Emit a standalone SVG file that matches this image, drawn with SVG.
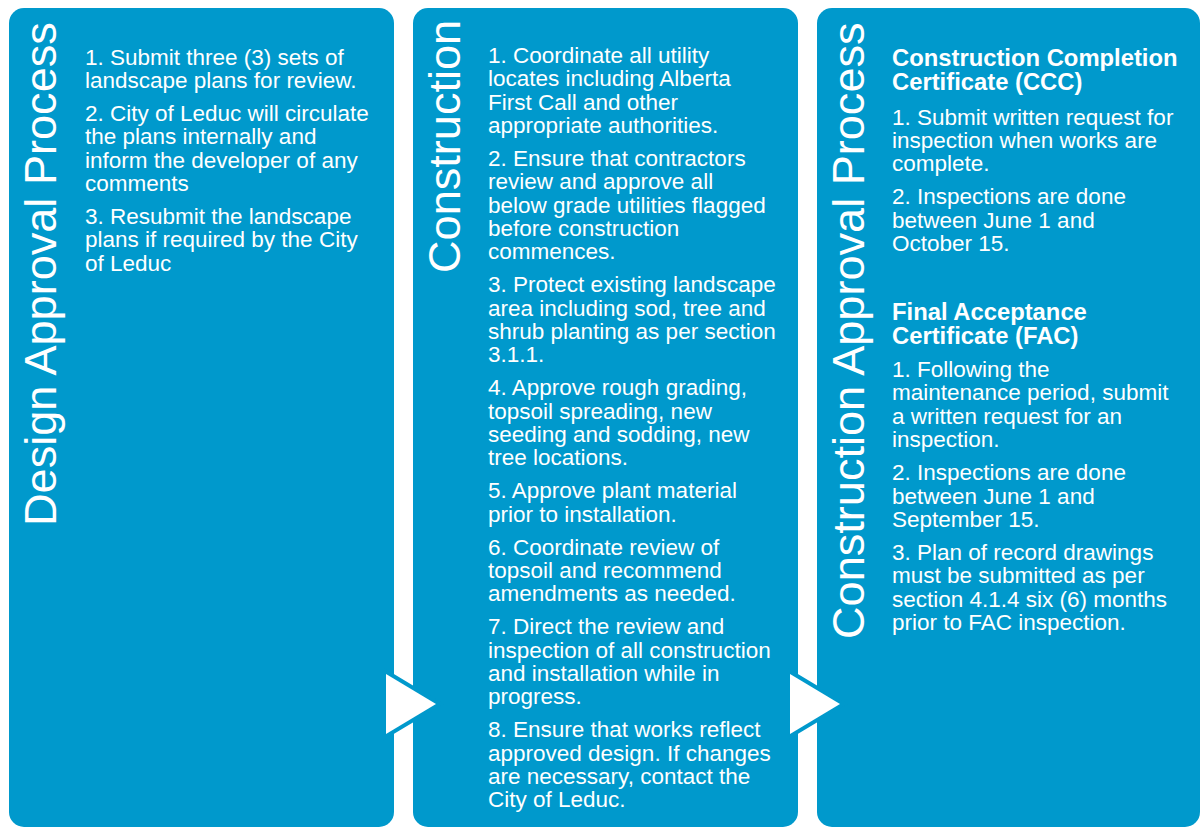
<svg xmlns="http://www.w3.org/2000/svg" width="1201" height="828" viewBox="0 0 1201 828">
<style>
.panel{fill:#0099cc}
.title{font-family:"Liberation Sans",Arial,sans-serif;font-size:45.1px;fill:#ffffff}
.body{font-family:"Liberation Sans",Arial,sans-serif;font-size:22.5px;fill:#ffffff}
.head{font-family:"Liberation Sans",Arial,sans-serif;font-size:23.8px;font-weight:bold;fill:#ffffff}
.arrow{fill:#ffffff;stroke:#0099cc;stroke-width:8;stroke-linejoin:miter;paint-order:stroke}
</style>
<rect width="1201" height="828" fill="#ffffff"/>
<g id="design-approval">
<rect class="panel" x="9" y="8" width="385" height="819" rx="15"/>
<text class="title" transform="translate(56,526) rotate(-90)">Design Approval Process</text>
<text class="body">
<tspan x="85" y="65">1. Submit three (3) sets of</tspan>
<tspan x="85" y="88.3">landscape plans for review.</tspan>
<tspan x="85" y="121">2. City of Leduc will circulate</tspan>
<tspan x="85" y="144.3">the plans internally and</tspan>
<tspan x="85" y="167.6">inform the developer of any</tspan>
<tspan x="85" y="190.9">comments</tspan>
<tspan x="85" y="224">3. Resubmit the landscape</tspan>
<tspan x="85" y="247.3">plans if required by the City</tspan>
<tspan x="85" y="270.6">of Leduc</tspan>
</text>
</g>
<g id="construction">
<rect class="panel" x="413" y="8" width="385" height="819" rx="15"/>
<text class="title" transform="translate(460,273) rotate(-90)">Construction</text>
<text class="body">
<tspan x="488" y="63">1. Coordinate all utility</tspan>
<tspan x="488" y="86.3">locates including Alberta</tspan>
<tspan x="488" y="109.6">First Call and other</tspan>
<tspan x="488" y="132.9">appropriate authorities.</tspan>
<tspan x="488" y="166">2. Ensure that contractors</tspan>
<tspan x="488" y="189.3">review and approve all</tspan>
<tspan x="488" y="212.6">below grade utilities flagged</tspan>
<tspan x="488" y="235.9">before construction</tspan>
<tspan x="488" y="259.2">commences.</tspan>
<tspan x="488" y="292.3">3. Protect existing landscape</tspan>
<tspan x="488" y="315.6">area including sod, tree and</tspan>
<tspan x="488" y="338.9">shrub planting as per section</tspan>
<tspan x="488" y="362.2">3.1.1.</tspan>
<tspan x="488" y="395.3">4. Approve rough grading,</tspan>
<tspan x="488" y="418.6">topsoil spreading, new</tspan>
<tspan x="488" y="441.9">seeding and sodding, new</tspan>
<tspan x="488" y="465.2">tree locations.</tspan>
<tspan x="488" y="498.3">5. Approve plant material</tspan>
<tspan x="488" y="521.6">prior to installation.</tspan>
<tspan x="488" y="554.7">6. Coordinate review of</tspan>
<tspan x="488" y="578">topsoil and recommend</tspan>
<tspan x="488" y="601.3">amendments as needed.</tspan>
<tspan x="488" y="634.4">7. Direct the review and</tspan>
<tspan x="488" y="657.7">inspection of all construction</tspan>
<tspan x="488" y="681">and installation while in</tspan>
<tspan x="488" y="704.3">progress.</tspan>
<tspan x="488" y="737.4">8. Ensure that works reflect</tspan>
<tspan x="488" y="760.7">approved design. If changes</tspan>
<tspan x="488" y="784">are necessary, contact the</tspan>
<tspan x="488" y="807.3">City of Leduc.</tspan>
</text>
</g>
<g id="construction-approval">
<rect class="panel" x="817" y="8" width="383" height="819" rx="15"/>
<text class="title" transform="translate(864,639) rotate(-90)">Construction Approval Process</text>
<text class="head">
<tspan x="892" y="66">Construction Completion</tspan>
<tspan x="892" y="90">Certificate (CCC)</tspan>
</text>
<text class="body">
<tspan x="892" y="124.5">1. Submit written request for</tspan>
<tspan x="892" y="147.8">inspection when works are</tspan>
<tspan x="892" y="171.1">complete.</tspan>
<tspan x="892" y="204.3">2. Inspections are done</tspan>
<tspan x="892" y="227.6">between June 1 and</tspan>
<tspan x="892" y="250.9">October 15.</tspan>
</text>
<text class="head">
<tspan x="892" y="319.5">Final Acceptance</tspan>
<tspan x="892" y="343.5">Certificate (FAC)</tspan>
</text>
<text class="body">
<tspan x="892" y="377">1. Following the</tspan>
<tspan x="892" y="400.3">maintenance period, submit</tspan>
<tspan x="892" y="423.6">a written request for an</tspan>
<tspan x="892" y="446.9">inspection.</tspan>
<tspan x="892" y="480.2">2. Inspections are done</tspan>
<tspan x="892" y="503.5">between June 1 and</tspan>
<tspan x="892" y="526.8">September 15.</tspan>
<tspan x="892" y="560.1">3. Plan of record drawings</tspan>
<tspan x="892" y="583.4">must be submitted as per</tspan>
<tspan x="892" y="606.7">section 4.1.4 six (6) months</tspan>
<tspan x="892" y="630">prior to FAC inspection.</tspan>
</text>
</g>
<g id="connectors">
<polygon class="arrow" points="386,674 436,704 386,734"/>
<polygon class="arrow" points="790,674 840,704 790,734"/>
</g>
</svg>
